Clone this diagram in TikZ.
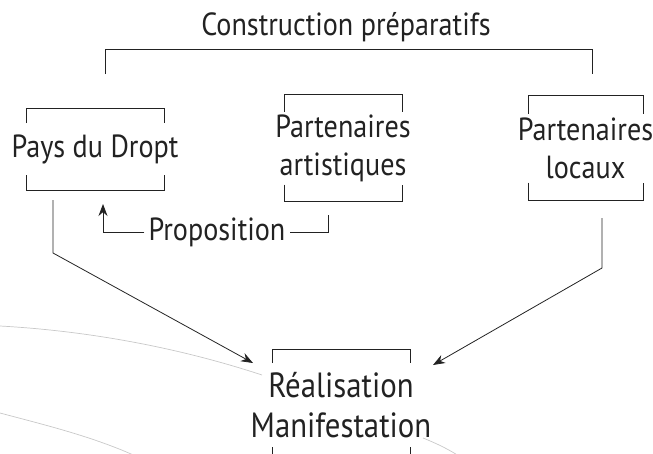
\documentclass[tikz,border=0pt]{standalone}
\usepackage{fontspec}
\setmainfont{PT Sans}[FakeStretch=0.88]
\usepackage{tikz}
\usetikzlibrary{calc,arrows.meta}

\definecolor{ink}{HTML}{222222}
\definecolor{arcgray}{HTML}{C8C8C8}

\tikzset{
  label/.style={text=ink, inner sep=0pt, align=center, font=\fontsize{32}{38}\selectfont},
  line/.style={draw=ink, line width=0.8pt},
  arr/.style={line, -{Stealth[length=12pt,width=9pt]}}
}

\begin{document}
\begin{tikzpicture}[x=1pt,y=-1pt]
            \useasboundingbox (0,0) rectangle (653,453);

            % Background arcs
            \draw[arcgray, line width=0.7pt] (0,326) .. controls (90,331) and (180,348) .. (262,375);
            \draw[arcgray, line width=0.7pt] (0,413) .. controls (45,425) and (95,437) .. (140,458);
            \draw[arcgray, line width=0.7pt] (423,438) .. controls (438,444) and (450,450) .. (462,458);

            % Boxes
            \node[label] (pays) at (95,149) {Pays du Dropt};
            \node[label] (artist) at (343,148) {Partenaires\\artistiques};
            \node[label] (locaux) at (585.5,148) {Partenaires\\locaux};
            \node[label, font=\fontsize{35}{40}\selectfont] (real) at (341,405) {Réalisation\\Manifestation};

            % Brackets (half width / half height / tick)
            \foreach \n/\w/\h/\t in {pays/69/41/15, artist/59/53.5/17, locaux/57.5/52.5/18, real/69/56/14} {
              \draw[line] ($(\n)+(-\w,-\h+\t)$) -- ++(0,-\t) -- ++(2*\w,0) -- ++(0,\t);
              \draw[line] ($(\n)+(-\w,\h-\t)$) -- ++(0,\t) -- ++(2*\w,0) -- ++(0,-\t);
            }

            % Title
            \node[label] (title) at (346,27) {Construction préparatifs};
            \coordinate (topl) at (105,74);
            \coordinate (topr) at (592,74);
            \draw[line] (topl) -- ++(0,-25) -| (topr);

            % Proposition
            \node[label, inner xsep=4pt] (prop) at (217,232) {Proposition};
            \coordinate (artout) at (328,215);
            \coordinate (paysin) at (103,204);
            \draw[line] (artout) |- (prop.east);
            \draw[arr] (prop.west) -| (paysin);

            % Arrows to the event
            \coordinate (paysout) at (53,200);
            \coordinate (locout) at (602,218);
            \coordinate (realinl) at (253,363);
            \coordinate (realinr) at (433,365);
            \draw[arr] (paysout) -- ++(0,53) -- (realinl);
            \draw[arr] (locout) -- ++(0,50) -- (realinr);
\end{tikzpicture}
\end{document}
